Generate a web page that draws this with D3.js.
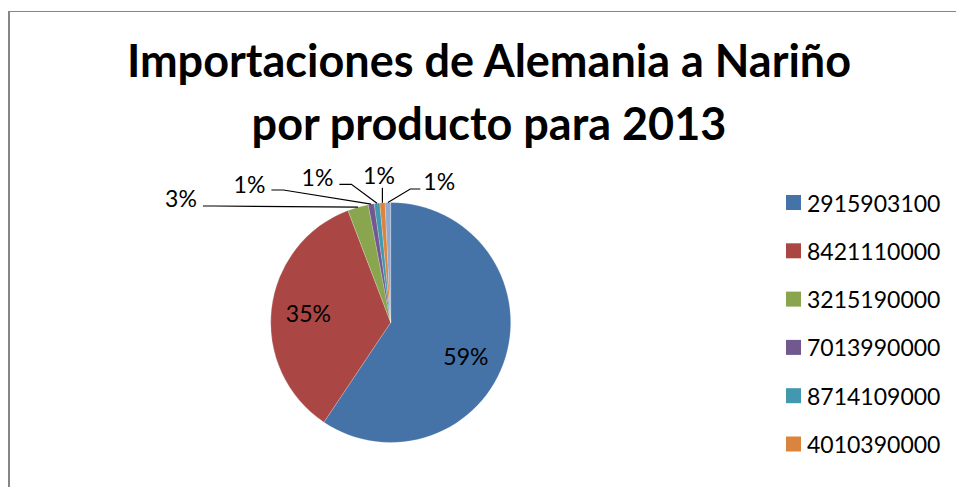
<!DOCTYPE html>
<html>
<head>
<meta charset="utf-8">
<script src="https://cdn.jsdelivr.net/npm/d3@7"></script>
<style>
  html, body { margin: 0; padding: 0; background: #fff; }
  svg { display: block; }
</style>
</head>
<body>
<svg id="chart" width="956" height="487"></svg>
<script>
// ---- data ----
const titleLines = ["Importaciones de Alemania a Nariño", "por producto para 2013"];
const categories = ["2915903100", "8421110000", "3215190000", "7013990000", "8714109000", "4010390000", "Otros"];
const shares = [59.4, 34.8, 2.8, 0.8, 0.75, 0.7, 0.75];
const colors = ["#4572A7", "#AA4643", "#89A54E", "#71588F", "#4198AF", "#DB843D", "#93A9CF"];
const legendCount = 6; // legend in the reference is cut after six entries

// ---- layout ----
const W = 956, H = 487;
const cx = 390.7, cy = 322.5, R = 120;
const labelFont = "Lato, 'Liberation Sans', sans-serif";
const labelSize = 23;
// inside-label nudges (best-fit placement as in the reference)
const innerNudge = { 0: [-4, 9], 1: [0, 0] };
// outside-label placement for the small slices (index -> layout)
const outerLayout = {
  2: { x: 181,   y: 206.5, side: "left",  ly: 206,   elbow: 12 },
  3: { x: 249.5, y: 193.3, side: "left",  ly: 190,   elbow: 12 },
  4: { x: 317.5, y: 185.7, side: "left",  ly: 184.3, elbow: 12 },
  5: { x: 379,   y: 184.3, side: "above" },
  6: { x: 439.2, y: 190,   side: "right", ly: 189,   elbow: 10 }
};

const svg = d3.select("#chart");

// border (chart area frame, partially visible)
svg.append("line").attr("x1", 9).attr("y1", 11.5).attr("x2", 9).attr("y2", H + 5)
  .attr("stroke", "#868686").attr("stroke-width", 2);
svg.append("line").attr("x1", 8).attr("y1", 11.5).attr("x2", W + 5).attr("y2", 11.5)
  .attr("stroke", "#868686").attr("stroke-width", 1.2);

// title
const titleY = [77, 140];
svg.selectAll("text.title").data(titleLines).join("text")
  .attr("class", "title")
  .attr("x", 489)
  .attr("y", (d, i) => titleY[i])
  .attr("text-anchor", "middle")
  .style("font-family", "Lato, 'Liberation Sans', sans-serif")
  .style("font-weight", "bold")
  .style("font-size", "45px")
  .attr("fill", "#000")
  .text(d => d);

// pie
const data = categories.map((c, i) => ({ name: c, value: shares[i], color: colors[i], i }));
const total = d3.sum(shares);
const pie = d3.pie().sort(null).value(d => d.value);
const arcs = pie(data);
const arc = d3.arc().innerRadius(0).outerRadius(R);
const fmt = d3.format(".0%");

const g = svg.append("g").attr("transform", `translate(${cx},${cy})`);
g.selectAll("path.slice").data(arcs).join("path")
  .attr("class", "slice")
  .attr("d", arc)
  .attr("fill", d => d.data.color)
  .attr("stroke", "#ffffff")
  .attr("stroke-opacity", 0.35)
  .attr("stroke-width", 0.6);

// inside labels for large slices
const inArc = d3.arc().innerRadius(0).outerRadius(R * 1.38);
arcs.forEach((a, i) => {
  if (outerLayout[i]) return;
  const [x, y] = inArc.centroid(a);
  const n = innerNudge[i] || [0, 0];
  g.append("text")
    .attr("x", x + n[0]).attr("y", y + n[1])
    .attr("text-anchor", "middle")
    .attr("dominant-baseline", "central")
    .style("font-family", labelFont)
    .style("font-size", labelSize + "px")
    .attr("fill", "#000")
    .text(fmt(a.data.value / total));
});

// outside labels with leader lines
const edgeArc = d3.arc().innerRadius(R * 2).outerRadius(0); // centroid at radius R
arcs.forEach((a, i) => {
  const L = outerLayout[i];
  if (!L) return;
  const [px, py] = edgeArc.centroid(a);
  const P = [cx + px, cy + py];
  const t = svg.append("text")
    .attr("x", L.x).attr("y", L.y)
    .attr("text-anchor", "middle")
    .style("font-family", labelFont)
    .style("font-size", labelSize + "px")
    .attr("fill", "#000")
    .text(fmt(a.data.value / total));
  const w = t.node().getComputedTextLength();
  let pts;
  if (L.side === "left") {
    const x0 = L.x + w / 2 + 6;
    pts = [[x0, L.ly], [x0 + L.elbow, L.ly], P];
  } else if (L.side === "right") {
    const x0 = L.x - w / 2 - 3;
    pts = [[x0, L.ly], [x0 - L.elbow, L.ly], P];
  } else {
    pts = [[P[0], L.y + 3.5], P];
  }
  svg.append("path")
    .attr("d", d3.line()(pts))
    .attr("fill", "none")
    .attr("stroke", "#000")
    .attr("stroke-width", 1.2);
});

// legend
const legY0 = 202.5, legStep = 48.3;
const leg = svg.append("g");
const items = leg.selectAll("g").data(data.slice(0, legendCount)).join("g")
  .attr("transform", (d, i) => `translate(786,${legY0 + i * legStep})`);
items.append("rect")
  .attr("x", 0).attr("y", -7.5).attr("width", 15).attr("height", 15)
  .attr("fill", d => d.color);
items.append("text")
  .attr("x", 21).attr("y", 0)
  .attr("dominant-baseline", "central")
  .style("font-family", labelFont)
  .style("font-size", labelSize + "px")
  .attr("fill", "#000")
  .text(d => d.name);
</script>
</body>
</html>
